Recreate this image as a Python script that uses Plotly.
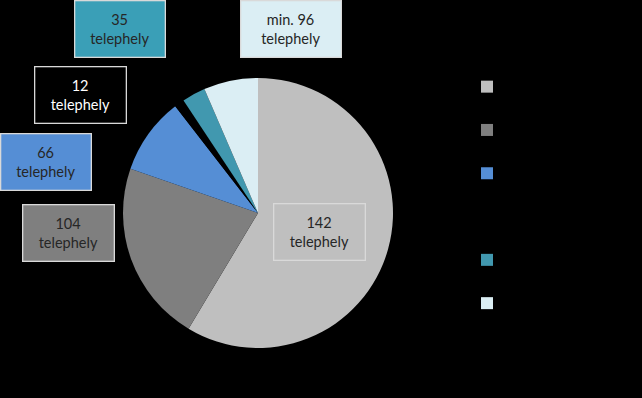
import plotly.graph_objects as go

# Data
categories = ["142 telephely", "104 telephely", "66 telephely", "12 telephely", "35 telephely", "min. 96 telephely"]
slice_shares = [58.6, 21.7, 9.2, 1.2, 2.8, 6.5]   # share of the pie
box_labels = ["142<br>telephely", "104<br>telephely", "66<br>telephely", "12<br>telephely", "35<br>telephely", "min. 96<br>telephely"]
legend_names = ["142<br>telephely", "104<br>telephely", "66<br>telephely", "12<br>telephely", "35<br>telephely", "min. 96<br>telephely"]

slice_colors = ["#BFBFBF", "#7F7F7F", "#558ED5", "#000000", "#4198AF", "#DBEEF4"]
box_fill = ["#BFBFBF", "#7F7F7F", "#558ED5", "#000000", "#3A9FB7", "#DBEEF4"]
box_text = ["#262626", "#262626", "#262626", "#FFFFFF", "#262626", "#262626"]
# box centers (px) and widths
box_pos = [(319.2, 231.7, 90), (68.3, 233.0, 90), (46.0, 161.8, 89), (80.5, 94.5, 90), (120.3, 29.3, 89), (291.2, 29.3, 99)]

W, H = 642, 398

fig = go.Figure()
fig.add_trace(go.Pie(
    labels=legend_names,
    values=slice_shares,
    sort=False,
    direction="clockwise",
    rotation=0,
    marker=dict(colors=slice_colors, line=dict(width=0)),
    textinfo="none",
    hoverinfo="skip",
    domain=dict(x=[123 / W, 393 / W], y=[1 - 348 / H, 1 - 78 / H]),
))

for lab, fill, tc, (cx, cy, bw) in zip(box_labels, box_fill, box_text, box_pos):
    fig.add_annotation(
        x=cx / W, y=1 - cy / H, xref="paper", yref="paper",
        xanchor="center", yanchor="middle",
        text=lab, showarrow=False,
        font=dict(family="Lato, Carlito, sans-serif", size=14.5, color=tc),
        bgcolor=fill, bordercolor="#D9D9D9", borderwidth=1.3, borderpad=0,
        width=bw, height=55, align="center", valign="middle",
    )

fig.update_layout(
    width=W, height=H,
    paper_bgcolor="#000000", plot_bgcolor="#000000",
    margin=dict(l=0, r=0, t=0, b=0),
    showlegend=True,
    legend=dict(
        x=467 / W, y=1 - 60 / H, xanchor="left", yanchor="top",
        font=dict(family="Lato, sans-serif", size=15.5, color="#000000"),
        bgcolor="rgba(0,0,0,0)", borderwidth=0,
    ),
)

fig.write_html(
    "out.html",
    config={"displayModeBar": False},
    post_script="document.body.style.margin='0px';document.body.style.background='#000';",
)
